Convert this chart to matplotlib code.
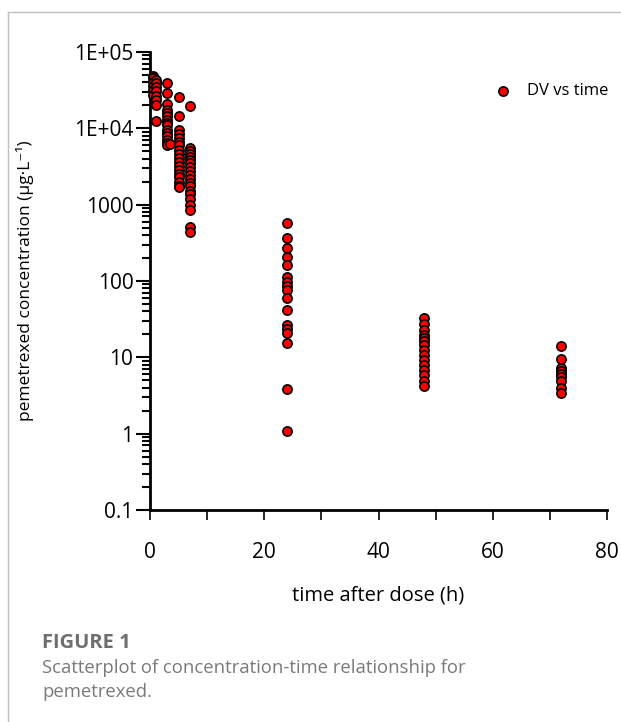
import matplotlib
matplotlib.use("Agg")
import matplotlib.pyplot as plt
from matplotlib.ticker import FixedLocator, LogLocator, NullFormatter, FixedFormatter
from matplotlib.lines import Line2D

plt.rcParams['font.family'] = ['Open Sans', 'DejaVu Sans']

# observed concentrations (ug/L) by sampling time (h)
t_05 = [0.5] * 6
c_05 = [49200, 45000, 41000, 36400, 32250, 27700]
t_1 = [1] * 8
c_1 = [43600, 38700, 34300, 30400, 26900, 23800, 20500, 12300]
t_3 = [3] * 15 + [3.5]
c_3 = [39800, 28600, 21100, 17600, 16100, 14300, 13000, 11900, 10900, 9650,
       8800, 8050, 7130, 6520, 5960, 6320]
t_5 = [5] * 18
c_5 = [26100, 14300, 9650, 8550, 7570, 6710, 5960, 5270, 4670, 4140, 3670,
       3250, 2880, 2560, 2270, 2010, 1780, 1680]
t_7 = [7] * 20
c_7 = [19900, 5600, 5120, 4670, 4270, 3900, 3560, 3160, 2800, 2480, 2200,
       1950, 1730, 1530, 1360, 1170, 1000, 863, 516, 444]
t_24 = [24] * 17
c_24 = [582, 371, 274, 209, 164, 114, 98, 87, 77, 59, 42, 26.8, 23.8, 21.1,
        15.6, 3.8, 1.1]
t_48 = [48] * 15
c_48 = [33.1, 27.7, 23.1, 19.8, 18.1, 16.6, 14.7, 12.6, 10.8, 9.3, 8.0, 6.9,
        5.9, 4.95, 4.26]
t_72 = [72] * 9
c_72 = [14.2, 9.6, 7.3, 6.7, 6.1, 5.6, 4.95, 4.0, 3.4]

times = t_05 + t_1 + t_3 + t_5 + t_7 + t_24 + t_48 + t_72
conc = c_05 + c_1 + c_3 + c_5 + c_7 + c_24 + c_48 + c_72

y_ticks = [0.1, 1, 10, 100, 1000, 1e4, 1e5]
y_labels = ['0.1', '1', '10', '100', '1000', '1E+04', '1E+05']

fig = plt.figure(figsize=(6.21, 7.22), dpi=100)

# page frame lines
fig.add_artist(Line2D([8 / 621, 1], [1 - 12 / 722, 1 - 12 / 722], color='#c0c0c0', lw=1))
fig.add_artist(Line2D([8 / 621, 8 / 621], [0, 1 - 12 / 722], color='#c0c0c0', lw=1))

ax = fig.add_axes([150 / 621, 1 - 510 / 722, (607 - 150) / 621, (510 - 52) / 722])
ax.scatter(times, conc, s=44, c='#ff0000', edgecolors='black', linewidths=1.2,
           zorder=3, label='DV vs time', clip_on=False)

ax.set_yscale('log')
ax.set_ylim(0.1, 1e5)
ax.set_xlim(0, 80)

ax.yaxis.set_major_locator(FixedLocator(y_ticks))
ax.yaxis.set_major_formatter(FixedFormatter(y_labels))
ax.yaxis.set_minor_locator(LogLocator(base=10, subs=range(2, 10)))
ax.yaxis.set_minor_formatter(NullFormatter())
ax.xaxis.set_major_locator(FixedLocator([0, 20, 40, 60, 80]))
ax.xaxis.set_minor_locator(FixedLocator([10, 30, 50, 70]))

for side in ['top', 'right']:
    ax.spines[side].set_visible(False)
for side in ['left', 'bottom']:
    ax.spines[side].set_linewidth(2)

ax.tick_params(axis='y', which='major', length=10, width=1.5, labelsize=15, pad=2)
ax.tick_params(axis='y', which='minor', length=6, width=1.5)
ax.tick_params(axis='x', which='both', length=7, width=1.2, labelsize=15, pad=16)

ax.set_xlabel('time after dose (h)', fontsize=14.5, labelpad=16)
ax.set_ylabel('pemetrexed concentration (µg·L⁻¹)', fontsize=12.5, labelpad=29)

ax.legend(loc='upper right', bbox_to_anchor=(1.035, 0.965), frameon=False,
          fontsize=12, handletextpad=0.4, markerscale=1.0)

fig.text(42 / 621, 1 - 643 / 722, 'FIGURE 1', fontsize=14.5, fontweight='bold',
         color='#6e6e6e', va='center')
fig.text(42 / 621, 1 - 668 / 722, 'Scatterplot of concentration-time relationship for',
         fontsize=13.3, color='#7a7a7a', va='center')
fig.text(42 / 621, 1 - 692 / 722, 'pemetrexed.', fontsize=13.3, color='#7a7a7a', va='center')

fig.savefig('out.png', dpi=100)
